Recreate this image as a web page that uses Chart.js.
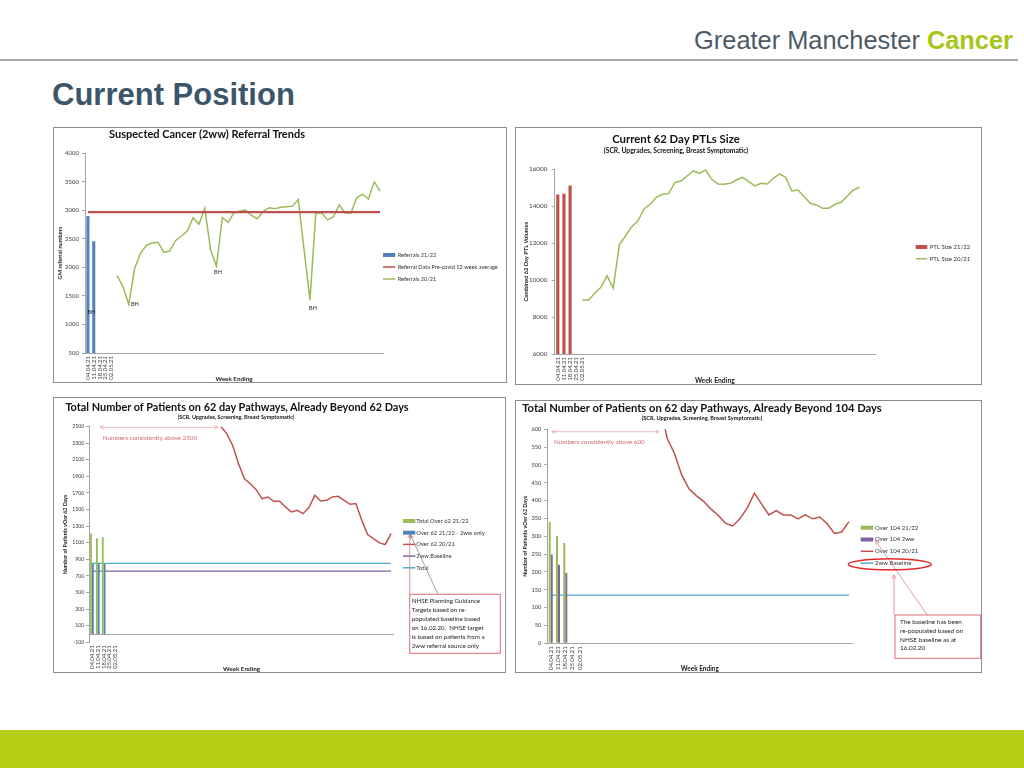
<!DOCTYPE html>
<html>
<head>
<meta charset="utf-8">
<title>Current Position</title>
<script src="https://cdn.jsdelivr.net/npm/chart.js@4.4.1/dist/chart.umd.min.js"></script>
<style>
  body { margin:0; width:1024px; height:768px; position:relative; overflow:hidden; background:#fff; font-family:"Liberation Sans", Arial, sans-serif; }
  #brand { position:absolute; right:11px; top:26px; font-size:25.4px; line-height:28px; color:#4b5a66; white-space:nowrap; }
  #brand b { color:#a6c71a; }
  #rule { position:absolute; left:0; top:59px; width:1018px; height:2px; background:#a9a9a9; }
  #heading { position:absolute; left:52px; top:77px; margin:0; font-size:31px; line-height:36px; font-weight:bold; color:#3d5568; }
  #band { position:absolute; left:0; top:730px; width:1024px; height:38px; background:#b4cf13; }
  .frame { position:absolute; box-sizing:border-box; border:1px solid #8d8d8d; }
  canvas { position:absolute; }
  .ttl { position:absolute; transform:translate(-50%,-50%); font-family:Lato, sans-serif; font-weight:bold; color:#111; white-space:nowrap; line-height:1; }
</style>
</head>
<body>
<div id="brand">Greater Manchester <b>Cancer</b></div>
<div id="rule"></div>
<h1 id="heading">Current Position</h1>

<div class="frame" style="left:53px;top:127px;width:454px;height:256px"></div>
<div class="frame" style="left:515px;top:127px;width:467px;height:258px"></div>
<div class="frame" style="left:53px;top:397px;width:453px;height:276px"></div>
<div class="frame" style="left:515px;top:400px;width:467px;height:273px"></div>

<canvas id="c1" width="454" height="256" style="left:53px;top:127px"></canvas>
<canvas id="c2" width="467" height="258" style="left:515px;top:127px"></canvas>
<canvas id="c3" width="453" height="276" style="left:53px;top:397px"></canvas>
<canvas id="c4" width="467" height="273" style="left:515px;top:400px"></canvas>

<div class="ttl" data-w="196" style="left:207px;top:134px;font-size:10px">Suspected Cancer (2ww) Referral Trends</div>
<div class="ttl" data-w="128" style="left:676px;top:139px;font-size:11px">Current 62 Day PTLs Size</div>
<div class="ttl" data-w="144" style="left:676px;top:149.5px;font-size:6px">(SCR, Upgrades, Screening, Breast Symptomatic)</div>
<div class="ttl" data-w="344" style="left:237px;top:406.5px;font-size:11px">Total Number of Patients on 62 day Pathways, Already Beyond 62 Days</div>
<div class="ttl" data-w="117" style="left:236px;top:417.7px;font-size:5px">(SCR, Upgrades, Screening, Breast Symptomatic)</div>
<div class="ttl" data-w="360" style="left:702px;top:407.5px;font-size:11px">Total Number of Patients on 62 day Pathways, Already Beyond 104 Days</div>
<div class="ttl" data-w="121" style="left:702px;top:418.3px;font-size:5px">(SCR, Upgrades, Screening, Breast Symptomatic)</div>

<div id="band"></div>

<script>
// week ending labels - only the first five weeks of 21/22 are shown on the axis
const weekTicks = ['04.04.21', '11.04.21', '18.04.21', '25.04.21', '02.05.21'];

// chart 1 - suspected cancer referrals
const referrals2122 = [2890, 2450];
const precovidAverage = 2965;
const referrals2021 = [null, null, null, null, null,
  1853, 1661, 1352, 1982, 2244, 2384, 2425, 2437, 2262, 2285, 2466, 2548, 2635, 2868, 2752, 3032,
  2303, 2023, 2868, 2787, 2956, 2985, 3000, 2910, 2850, 2975, 3040, 3025, 3050, 3060, 3070, 3185,
  2300, 1425, 2945, 2955, 2830, 2880, 3090, 2955, 2945, 3215, 3280, 3195, 3495, 3335];
const bankHolidayWeeks = [7, 22, 38];

// chart 2 - 62 day PTL size
const ptl2122 = [14620, 14660, 15100];
const ptl2021 = [null, null, null, null,
  8924, 8924, 9285, 9610, 10242, 9556, 11921, 12390, 12895, 13202, 13852, 14105, 14484, 14646,
  14682, 15278, 15368, 15639, 15910, 15783, 15964, 15458, 15206, 15188, 15242, 15422, 15567,
  15332, 15097, 15242, 15206, 15513, 15747, 15567, 14827, 14881, 14520, 14159, 14069, 13888,
  13888, 14105, 14213, 14556, 14881, 15025];

// chart 3 - over 62 days
const over62Total2122 = [1210, 1155, 1165];
const over62Ww2122 = [845, 848, 850];
const over62_2021 = [null, null, null, null, null, null, null, null, null, null, null,
  null, null, null, null, null, null, null, null, null, null, null,
  2500, 2412, 2272, 2051, 1871, 1811, 1739, 1631, 1651, 1599, 1599, 1531, 1470, 1490, 1450,
  1523, 1671, 1603, 1611, 1651, 1659, 1611, 1563, 1571, 1370, 1198, 1150, 1098, 1078, 1210];
const over62Baseline2ww = 757;
const over62BaselineTotal = 850;

// chart 4 - over 104 days
const over104Total2122 = [340, 300, 281];
const over104Ww2122 = [249, 220, 197];
const over104_2021 = [null, null, null, null, null, null, null, null, null, null, null, null,
  null, null, null, 670, 575, 533, 472, 433, 414, 398, 377, 359, 337, 329, 349, 379, 421, 390,
  360, 372, 360, 360, 349, 360, 349, 354, 335, 308, 312, 341];
const over104Baseline2ww = 135;

function axisLabels(count) {
  return weekTicks.concat(Array(count - weekTicks.length).fill(''));
}
const labels1 = axisLabels(51);
const labels2 = axisLabels(52);
const labels3 = axisLabels(52);
const labels4 = axisLabels(42);

const BLUE = '#4f81bd', RED = '#c0504d', GREEN = '#9bbb59', PURPLE = '#8064a2', TEAL = '#4bacc6';
const AXIS = '#a6a6a6';
const PINK = '#e9a3aa';

Chart.defaults.font.family = 'Lato, sans-serif';
Chart.defaults.color = '#404040';

// fit slide titles to the width they have on the original
document.querySelectorAll('.ttl').forEach(el => {
  const size = parseFloat(el.style.fontSize);
  el.style.fontSize = (size * (+el.dataset.w) / el.offsetWidth) + 'px';
});

function yAxis(min, max, step, text, o) {
  return {
    min, max,
    ticks: { stepSize: step, font: { size: o.tick }, color: '#404040', padding: o.pad, callback: v => String(v) },
    grid: { drawOnChartArea: false, tickLength: 3, color: AXIS },
    border: { color: AXIS },
    title: { display: true, text, color: '#1a1a1a', font: { size: o.title, weight: 'bold' }, padding: { top: o.titlePad, bottom: 0 } },
    afterFit: s => { s.width = o.width; }
  };
}

function xAxis(o) {
  return {
    ticks: { autoSkip: false, minRotation: 90, maxRotation: 90, font: { size: 6 }, color: '#404040', padding: 3 },
    grid: { display: false, drawTicks: false },
    border: { display: o.border !== false, color: AXIS },
    title: { display: true, text: 'Week Ending', color: '#1a1a1a', font: { size: o.title, weight: 'bold' }, padding: 0 },
    afterFit: s => { s.height = o.height; }
  };
}

function options(pad, x, y) {
  return {
    responsive: false,
    animation: false,
    layout: { padding: pad },
    plugins: { legend: { display: false }, tooltip: { enabled: false } },
    scales: { x, y }
  };
}

function head(ctx, x0, y0, x1, y1) {
  const a = Math.atan2(y1 - y0, x1 - x0), s = 4;
  ctx.beginPath();
  ctx.moveTo(x1 - s * Math.cos(a - 0.5), y1 - s * Math.sin(a - 0.5));
  ctx.lineTo(x1, y1);
  ctx.lineTo(x1 - s * Math.cos(a + 0.5), y1 - s * Math.sin(a + 0.5));
  ctx.stroke();
}

// legend, data tags and the pasted-on notes of each chart
function extras(cfg) {
  return {
    id: 'extras',
    afterDatasetsDraw(chart) {
      const ctx = chart.ctx, xs = chart.scales.x, ys = chart.scales.y, area = chart.chartArea;
      ctx.save();
      if (cfg.zeroLine) {
        const y0 = Math.round(ys.getPixelForValue(0)) + 0.5;
        ctx.strokeStyle = AXIS; ctx.lineWidth = 1;
        ctx.beginPath(); ctx.moveTo(area.left, y0); ctx.lineTo(area.right, y0); ctx.stroke();
      }
      const L = cfg.legend;
      ctx.font = L.size + 'px Lato';
      ctx.textBaseline = 'middle';
      ctx.textAlign = 'left';
      chart.data.datasets.forEach((ds, i) => {
        const y = L.y + i * L.gap;
        if (ds.type === 'line') {
          ctx.strokeStyle = ds.borderColor; ctx.lineWidth = 1.5;
          ctx.beginPath(); ctx.moveTo(L.x, y); ctx.lineTo(L.x + L.w, y); ctx.stroke();
        } else {
          ctx.fillStyle = ds.backgroundColor; ctx.fillRect(L.x, y - 2, L.w, 4);
        }
        ctx.fillStyle = '#333';
        ctx.fillText(ds.label, L.x + L.w + L.sp, y);
      });
      (cfg.tags || []).forEach(t => {
        ctx.font = '5.5px Lato'; ctx.fillStyle = '#222'; ctx.textAlign = 'center';
        ctx.fillText(t.text, xs.getPixelForValue(t.i) + t.dx, ys.getPixelForValue(t.v) + t.dy);
      });
      (cfg.arrows || []).forEach(a => {
        ctx.strokeStyle = a.color; ctx.lineWidth = 0.8;
        ctx.beginPath(); ctx.moveTo(a.x0, a.y0); ctx.lineTo(a.x1, a.y1); ctx.stroke();
        head(ctx, a.x0, a.y0, a.x1, a.y1);
        if (a.both) head(ctx, a.x1, a.y1, a.x0, a.y0);
      });
      (cfg.ellipses || []).forEach(e => {
        ctx.strokeStyle = e.color; ctx.lineWidth = 1.5;
        ctx.beginPath(); ctx.ellipse(e.x, e.y, e.rx, e.ry, 0, 0, Math.PI * 2); ctx.stroke();
      });
      (cfg.texts || []).forEach(t => {
        ctx.font = t.size + 'px Lato'; ctx.fillStyle = t.color; ctx.textAlign = 'left';
        ctx.fillText(t.text, t.x, t.y);
      });
      if (cfg.box) {
        const b = cfg.box;
        ctx.fillStyle = '#fff'; ctx.fillRect(b.x, b.y, b.w, b.h);
        ctx.strokeStyle = b.color; ctx.lineWidth = 1; ctx.strokeRect(b.x, b.y, b.w, b.h);
        ctx.font = b.size + 'px Lato'; ctx.fillStyle = '#222'; ctx.textAlign = 'left';
        b.lines.forEach((s, k) => ctx.fillText(s, b.x + b.tx, b.y + b.ty + k * b.gap));
      }
      ctx.restore();
    }
  };
}

// chart 1
new Chart(document.getElementById('c1'), {
  type: 'bar',
  data: {
    labels: labels1,
    datasets: [
      { type: 'bar', label: 'Referrals 21/22', data: referrals2122, backgroundColor: BLUE, barThickness: 2.4 },
      { type: 'line', label: 'Referral Data Pre-covid 12 week average', data: labels1.map(() => precovidAverage), borderColor: RED, borderWidth: 2.2, pointRadius: 0 },
      { type: 'line', label: 'Referrals 20/21', data: referrals2021, borderColor: GREEN, borderWidth: 1.5, pointRadius: 0 }
    ]
  },
  options: options({ left: 0, right: 124, top: 26, bottom: 0 },
    xAxis({ height: 30, title: 6.3 }),
    yAxis(500, 4000, 500, 'GM referral numbers', { tick: 6, pad: 3, title: 5.7, titlePad: 3.6, width: 32 })),
  plugins: [extras({
    legend: { x: 330, y: 128, gap: 12, w: 12.3, sp: 2.4, size: 5.6 },
    tags: bankHolidayWeeks.map((i, k) => ({ i, v: referrals2021[i], text: 'BH', dx: [6, 1.5, 3][k], dy: [0, 6.3, 8][k] }))
      .concat([{ i: 0, v: 1212, text: 'BH', dx: 3.4, dy: 0 }])
  })]
});

// chart 2
new Chart(document.getElementById('c2'), {
  type: 'bar',
  data: {
    labels: labels2,
    datasets: [
      { type: 'bar', label: 'PTL Size 21/22', data: ptl2122, backgroundColor: RED, barThickness: 2.5 },
      { type: 'line', label: 'PTL Size 20/21', data: ptl2021, borderColor: GREEN, borderWidth: 1.5, pointRadius: 0 }
    ]
  },
  options: options({ left: 0, right: 107, top: 42.3, bottom: 0 },
    xAxis({ height: 31, title: 6.8 }),
    yAxis(6000, 16000, 2000, 'Combined 62 Day PTL Volumes', { tick: 6.3, pad: 4.4, title: 5.7, titlePad: 7.3, width: 39.7 })),
  plugins: [extras({
    legend: { x: 400.7, y: 120, gap: 11.7, w: 11.6, sp: 2.4, size: 6 }
  })]
});

// chart 3
new Chart(document.getElementById('c3'), {
  type: 'bar',
  data: {
    labels: labels3,
    datasets: [
      { type: 'bar', label: 'Total Over 62 21/22', data: over62Total2122, backgroundColor: GREEN, barPercentage: 1, categoryPercentage: 0.62 },
      { type: 'bar', label: 'Over 62 21/22 - 2ww only', data: over62Ww2122, backgroundColor: BLUE, barPercentage: 1, categoryPercentage: 0.62 },
      { type: 'line', label: 'Over 62 20/21', data: over62_2021, borderColor: RED, borderWidth: 1.5, pointRadius: 0 },
      { type: 'line', label: '2ww Baseline', data: labels3.map(() => over62Baseline2ww), borderColor: PURPLE, borderWidth: 1.2, pointRadius: 0 },
      { type: 'line', label: 'Total', data: labels3.map(() => over62BaselineTotal), borderColor: TEAL, borderWidth: 1.2, pointRadius: 0 }
    ]
  },
  options: options({ left: 0, right: 112, top: 29.5, bottom: 0 },
    xAxis({ height: 30.7, title: 6.3, border: false }),
    yAxis(-100, 2500, 200, 'Number of Patients vOer 62 Days', { tick: 5.2, pad: 1.7, title: 5.3, titlePad: 9.3, width: 36 })),
  plugins: [extras({
    zeroLine: true,
    legend: { x: 350, y: 124, gap: 11.7, w: 12.3, sp: 1, size: 5.8 },
    arrows: [
      { x0: 47, y0: 30.3, x1: 165, y1: 30.3, color: PINK, both: true },
      { x0: 356.7, y0: 197.3, x1: 356.7, y1: 137.5, color: '#e47b85' },
      { x0: 385, y0: 197.3, x1: 357.5, y1: 138, color: '#9c7a7a' }
    ],
    texts: [{ x: 49.7, y: 41, text: 'Numbers consistently above 2500', color: '#cf6b73', size: 6.3 }],
    box: { x: 356.7, y: 197.3, w: 90.6, h: 59, color: '#e46a72', size: 6.2, tx: 2, ty: 7, gap: 8.9,
      lines: ['NHSE Planning Guidance', 'Targets based on re-', 'populated baseline based', 'on 16.02.20.  NHSE target', 'is based on patients from a', '2ww referral source only'] }
  })]
});

// chart 4
new Chart(document.getElementById('c4'), {
  type: 'bar',
  data: {
    labels: labels4,
    datasets: [
      { type: 'bar', label: 'Over 104 21/22', data: over104Total2122, backgroundColor: GREEN, barPercentage: 1, categoryPercentage: 0.55 },
      { type: 'bar', label: 'Over 104 2ww', data: over104Ww2122, backgroundColor: PURPLE, barPercentage: 1, categoryPercentage: 0.55 },
      { type: 'line', label: 'Over 104 20/21', data: over104_2021, borderColor: RED, borderWidth: 1.5, pointRadius: 0 },
      { type: 'line', label: '2ww Baseline', data: labels4.map(() => over104Baseline2ww), borderColor: TEAL, borderWidth: 1.2, pointRadius: 0 }
    ]
  },
  options: options({ left: 0, right: 129.4, top: 29.3, bottom: 0 },
    xAxis({ height: 29.7, title: 6.5 }),
    yAxis(0, 600, 50, 'Number of Patients vOer 62 Days', { tick: 5.7, pad: 2.8, title: 5.4, titlePad: 7, width: 32.1 })),
  plugins: [extras({
    legend: { x: 345.7, y: 127.7, gap: 11.8, w: 12.6, sp: 1.7, size: 6 },
    arrows: [
      { x0: 36.7, y0: 31.7, x1: 144, y1: 31.7, color: PINK, both: true },
      { x0: 379, y0: 215, x1: 379, y1: 175, color: '#e47b85' },
      { x0: 412.3, y0: 215, x1: 360.7, y1: 140.7, color: '#d08b8b' }
    ],
    ellipses: [{ x: 374.8, y: 164.3, rx: 41.5, ry: 5.5, color: '#e02a2a' }],
    texts: [{ x: 39, y: 42, text: 'Numbers consistently above 600', color: '#cf6b73', size: 6.3 }],
    box: { x: 380, y: 215, w: 85.7, h: 43.3, color: '#e46a72', size: 6.4, tx: 5, ty: 7.3, gap: 8.7,
      lines: ['The baseline has been', 're-populated based on', 'NHSE baseline as at', '16.02.20'] }
  })]
});
</script>
</body>
</html>
